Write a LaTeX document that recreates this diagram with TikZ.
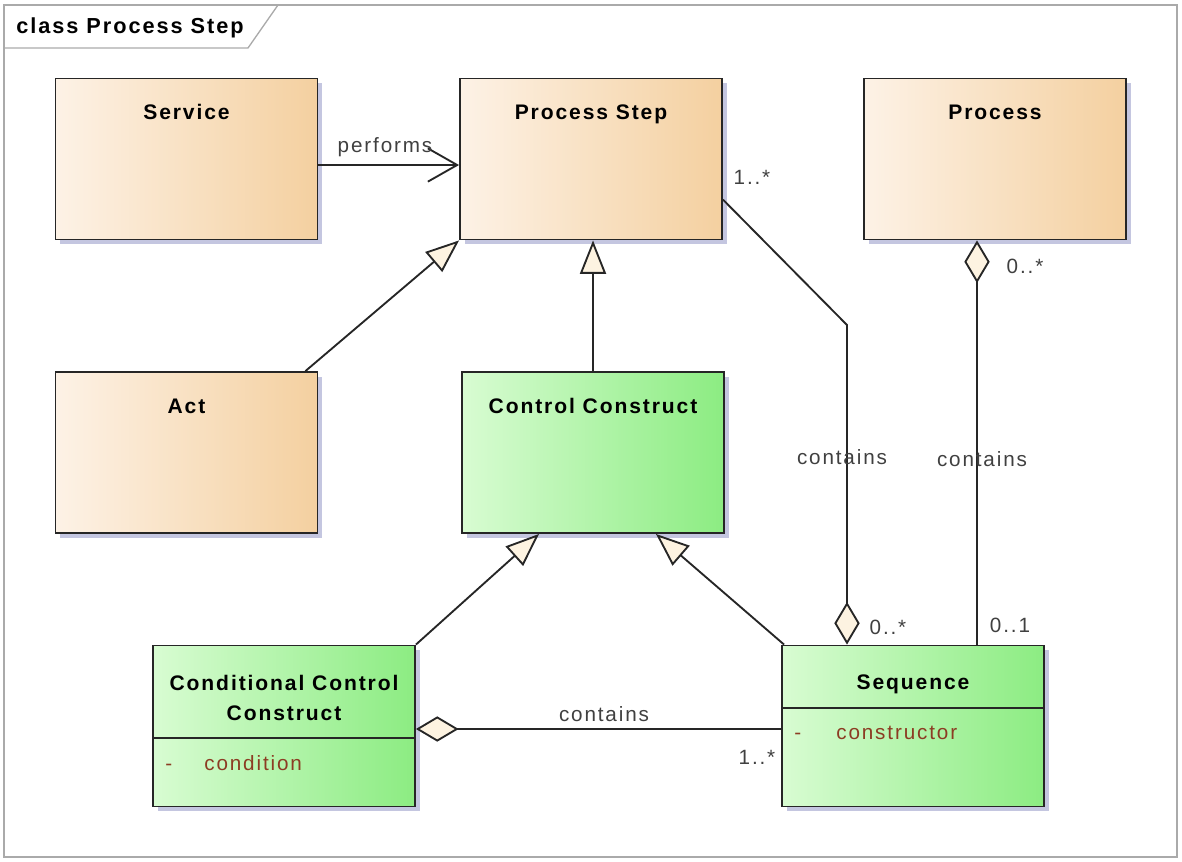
\documentclass[tikz,border=0pt]{standalone}
\usepackage{fontspec}
\setmainfont{Liberation Sans}
\newfontfamily\umlfont[LetterSpace=9]{Liberation Sans}
\usetikzlibrary{arrows.meta,positioning,calc,shadows}
\definecolor{eaorangel}{RGB}{253,242,230}
\definecolor{eaorange}{RGB}{244,208,160}
\definecolor{eagreenl}{RGB}{216,252,210}
\definecolor{eagreen}{RGB}{140,236,130}
\definecolor{eacream}{RGB}{253,243,225}
\definecolor{eashadow}{RGB}{196,198,224}
\definecolor{eaattr}{RGB}{140,60,35}
\definecolor{eaframe}{RGB}{170,170,170}

\begin{document}
\begin{tikzpicture}[x=0.75pt, y=-0.75pt,
    cls/.style={rectangle, draw=black!85, line width=1.4pt,
        minimum width=196.5pt, minimum height=120.75pt, inner sep=0pt,
        drop shadow={shadow xshift=3.5pt, shadow yshift=-3.5pt,
            fill=eashadow, opacity=1}},
    clso/.style={cls, left color=eaorangel, right color=eaorange},
    clsg/.style={cls, left color=eagreenl, right color=eagreen},
    ttl/.style={font=\umlfont\bfseries\fontsize{15.8}{23}\selectfont,
        align=center, inner sep=0pt},
    ttlb/.style={ttl, anchor=base},
    lbl/.style={font=\umlfont\fontsize{15.5}{18}\selectfont,
        text=black!75, inner sep=0pt},
    attr/.style={font=\umlfont\fontsize{15.5}{18}\selectfont,
        text=eaattr, inner sep=0pt, anchor=base west},
    conn/.style={line width=1.4pt, black!85},
    assoc/.style={conn, -{Straight Barb[length=22pt, width=25pt]}},
    gen/.style={conn, -{Triangle[length=25pt, width=19.5pt, fill=eacream]}},
    aggr/.style={conn, {Diamond[length=32pt, width=19pt, fill=eacream]}-}
]
    \useasboundingbox (0,0) rectangle (1182,861);

    % frame
    \draw[eaframe, line width=1pt] (4,5) rectangle (1177,857);
    \draw[eaframe, line width=1pt] (4,48) -- (248,48) -- (278,5);
    \node[ttlb, anchor=base west, font=\umlfont\bfseries\fontsize{16.3}{20}\selectfont]
        (frametitle) at (16,33) {class Process Step};

    % classes
    \node[clso] (svc)   at (186.5,159) {};
    \node[clso] (pstep) at (591,159) {};
    \node[clso] (proc)  at (995,159) {};
    \node[clso] (act)   at (186.5,452.5) {};
    \node[clsg] (ctrl)  at (593,452.5) {};
    \node[clsg] (cond)  at (284,726) {};
    \node[clsg] (seq)   at (913,726) {};

    \node[ttlb] (svcname)   at ($(svc.north)+(0,42)$) {Service};
    \node[ttlb] (pstepname) at ($(pstep.north)+(0,42)$) {Process Step};
    \node[ttlb] (procname)  at ($(proc.north)+(0,42)$) {Process};
    \node[ttlb] (actname)   at ($(act.north)+(0,42)$) {Act};
    \node[ttlb] (ctrlname)  at ($(ctrl.north)+(0,42)$) {Control Construct};
    \node[ttl]  (condname)  at ($(cond.north)+(0,53.5)$) {Conditional Control\\Construct};
    \node[ttlb] (seqname)   at ($(seq.north)+(0,45)$) {Sequence};

    % attribute compartments
    \draw[conn] ($(cond.north west)+(0,93)$) -- ($(cond.north east)+(0,93)$);
    \draw[conn] ($(seq.north west)+(0,63)$) -- ($(seq.north east)+(0,63)$);
    \node[attr] (condvis)  at ($(cond.north west)+(13,126)$) {-};
    \node[attr] (condattr) at ($(cond.north west)+(52,126)$) {condition};
    \node[attr] (seqvis)   at ($(seq.north west)+(13,95)$) {-};
    \node[attr] (seqattr)  at ($(seq.north west)+(55,95)$) {constructor};

    % associations
    \draw[assoc] ($(svc.east)+(0,6)$) -- ($(pstep.west)+(0,6)$);
    \node[lbl] (perflbl) at (385,147) {performs};

    % generalizations
    \draw[gen] ($(act.north east)+(-13,0)$) -- (pstep.south west);
    \draw[gen] (ctrl.north) -- (ctrl.north |- pstep.south);
    \draw[gen] (cond.north east) -- ($(ctrl.south west)+(78,0)$);
    \draw[gen] ($(seq.north west)+(3,0)$) -- ($(ctrl.south east)+(-69,0)$);

    % aggregations
    \coordinate (bendps) at (847,325);
    \draw[aggr] (bendps |- seq.north) -- (bendps) -- ($(pstep.north east)+(0,122)$);
    \draw[aggr] ($(proc.south)+(-18,0)$) coordinate (procjoin) -- (procjoin |- seq.north);
    \draw[aggr] ($(cond.east)+(0,3)$) -- ($(seq.west)+(0,3)$);

    % role labels
    \node[lbl] (psmult)   at (752,177) {1..*};
    \node[lbl] (pscont)   at (842,457) {contains};
    \node[lbl] (seqmult1) at (888,627) {0..*};
    \node[lbl] (procmult) at (1025,266) {0..*};
    \node[lbl] (proccont) at (982,459) {contains};
    \node[lbl] (seqmult2) at (1010,625) {0..1};
    \node[lbl] (condcont) at (604,714) {contains};
    \node[lbl] (condmult) at (757,757) {1..*};
\end{tikzpicture}
\end{document}
